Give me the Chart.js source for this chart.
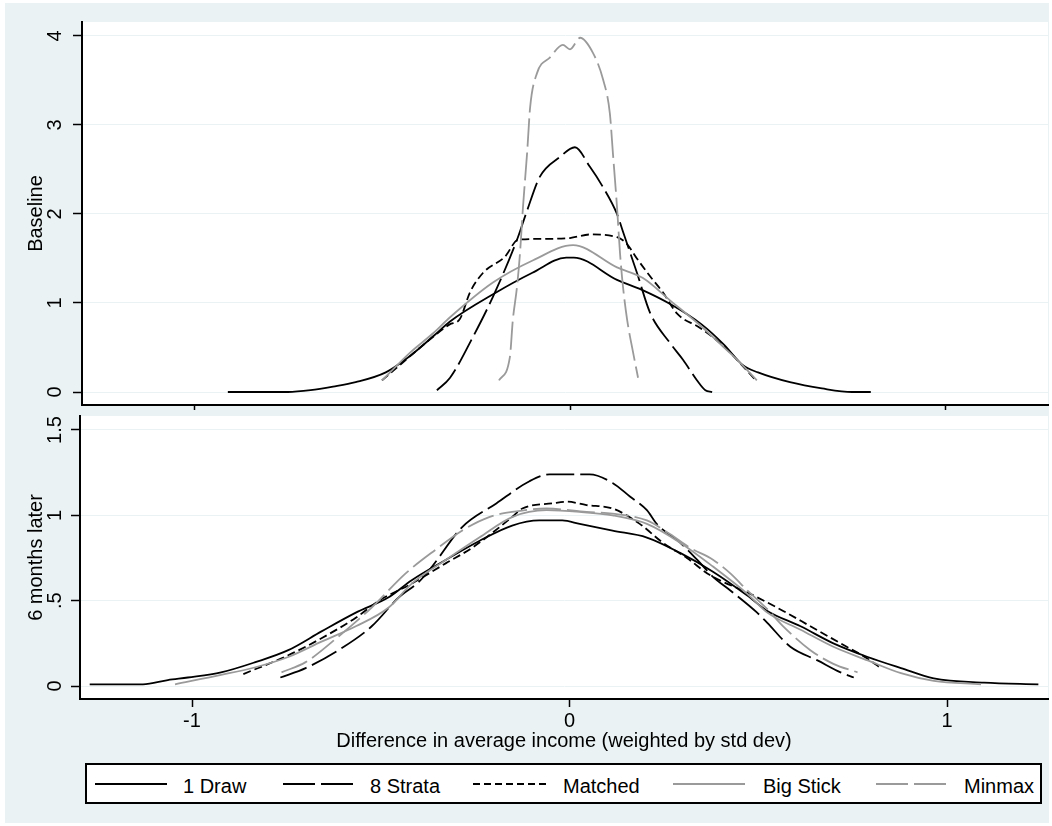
<!DOCTYPE html>
<html>
<head>
<meta charset="utf-8">
<title>Difference in average income</title>
<script src="https://cdn.jsdelivr.net/npm/chart.js@4.4.1/dist/chart.umd.min.js"></script>
<style>
  body { margin: 0; background: #fff; }
  #page { position: relative; width: 1052px; height: 826px; overflow: hidden; font-family: 'Liberation Sans', Arial, sans-serif; }
  #bg { position: absolute; left: 5px; top: 3px; width: 1044px; height: 820px; background: #eaf2f3; }
  canvas { position: absolute; left: 0; }
  #legendBox { position: absolute; left: 85px; top: 763px; width: 957px; height: 41px; box-sizing: border-box; border: 2px solid #000; background: #fff; }
  #legendLines { position: absolute; left: 0; top: 770px; }
  .keyText { position: absolute; top: 774px; font-size: 20px; line-height: 24px; white-space: nowrap; color: #000; }
</style>
</head>
<body>
<div id="page">
  <div id="bg"></div>
  <canvas id="top" width="1052" height="410" style="top:0"></canvas>
  <canvas id="bottom" width="1052" height="350" style="top:410px"></canvas>
  <div id="legendBox"></div>
  <svg id="legendLines" width="1052" height="30"></svg>
</div>
<script>
// series names, in Stata's plotting order
const seriesNames = ['1 Draw', '8 Strata', 'Matched', 'Big Stick', 'Minmax'];

// Baseline panel: [x, density]
const baseDraw1 = [[-0.91,0],[-0.75,0],[-0.69,0.02],[-0.63,0.06],[-0.57,0.11],[-0.49,0.22],[-0.43,0.39],[-0.36,0.64],[-0.32,0.79],[-0.2,1.11],[-0.1,1.34],[-0.01,1.51],[0.01,1.51],[0.125,1.26],[0.19,1.15],[0.27,0.98],[0.35,0.76],[0.41,0.53],[0.46,0.3],[0.5,0.22],[0.585,0.11],[0.67,0.04],[0.75,0],[0.8,0]];
const baseStrata8 = [[-0.354,0.02],[-0.319,0.16],[-0.258,0.62],[-0.205,1.07],[-0.141,1.71],[-0.114,2.04],[-0.08,2.42],[-0.027,2.64],[0.013,2.75],[0.053,2.53],[0.088,2.3],[0.125,2.0],[0.141,1.8],[0.178,1.34],[0.213,0.89],[0.266,0.55],[0.301,0.36],[0.338,0.13],[0.36,0.02],[0.378,0]];
const baseMatched = [[-0.5,0.13],[-0.426,0.4],[-0.364,0.62],[-0.32,0.76],[-0.293,0.82],[-0.266,1.12],[-0.231,1.34],[-0.173,1.52],[-0.138,1.71],[-0.08,1.72],[0,1.73],[0.053,1.77],[0.125,1.74],[0.152,1.66],[0.178,1.5],[0.213,1.3],[0.247,1.12],[0.285,0.88],[0.346,0.72],[0.407,0.52],[0.497,0.12]];
const baseBigStick = [[-0.5,0.13],[-0.426,0.44],[-0.364,0.66],[-0.319,0.84],[-0.205,1.23],[-0.098,1.48],[0.008,1.65],[0.125,1.4],[0.194,1.28],[0.266,1.03],[0.346,0.75],[0.407,0.51],[0.452,0.33],[0.497,0.13]];
const baseMinmax = [[-0.189,0.13],[-0.16,0.39],[-0.152,0.81],[-0.141,1.18],[-0.133,1.56],[-0.125,2.08],[-0.114,2.69],[-0.106,3.2],[-0.088,3.58],[-0.053,3.76],[-0.019,3.9],[0,3.85],[0.027,3.98],[0.061,3.81],[0.088,3.51],[0.106,3.13],[0.114,2.69],[0.125,2.08],[0.133,1.56],[0.141,1.18],[0.152,0.81],[0.168,0.44],[0.181,0.16]];

// 6 months later panel
const lateDraw1 = [[-1.271,0.01],[-1.13,0.01],[-1.064,0.035],[-1.011,0.05],[-0.923,0.08],[-0.832,0.14],[-0.745,0.21],[-0.657,0.32],[-0.566,0.43],[-0.479,0.52],[-0.418,0.62],[-0.327,0.74],[-0.239,0.85],[-0.152,0.94],[-0.08,0.97],[-0.019,0.97],[0.027,0.95],[0.114,0.91],[0.205,0.87],[0.293,0.78],[0.38,0.67],[0.471,0.53],[0.524,0.44],[0.612,0.35],[0.699,0.25],[0.79,0.17],[0.878,0.105],[0.965,0.045],[1.098,0.02],[1.242,0.01]];
const lateStrata8 = [[-0.766,0.05],[-0.699,0.105],[-0.612,0.21],[-0.524,0.35],[-0.452,0.52],[-0.399,0.61],[-0.364,0.7],[-0.285,0.93],[-0.194,1.07],[-0.106,1.2],[-0.053,1.24],[0.053,1.24],[0.114,1.19],[0.16,1.11],[0.205,1.03],[0.231,0.95],[0.293,0.84],[0.338,0.74],[0.38,0.64],[0.426,0.56],[0.497,0.43],[0.524,0.37],[0.585,0.23],[0.657,0.15],[0.718,0.08],[0.753,0.05]];
const lateMatched = [[-0.864,0.07],[-0.745,0.18],[-0.657,0.28],[-0.566,0.4],[-0.505,0.5],[-0.418,0.6],[-0.327,0.72],[-0.258,0.81],[-0.152,0.99],[-0.125,1.04],[-0.045,1.07],[-0.008,1.08],[0.045,1.06],[0.114,1.04],[0.186,0.95],[0.247,0.84],[0.311,0.75],[0.372,0.65],[0.479,0.54],[0.566,0.44],[0.638,0.35],[0.726,0.24],[0.79,0.16],[0.824,0.105]];
const lateBigStick = [[-1.045,0.01],[-0.923,0.065],[-0.832,0.11],[-0.745,0.17],[-0.657,0.26],[-0.566,0.35],[-0.479,0.46],[-0.418,0.6],[-0.327,0.74],[-0.239,0.87],[-0.152,0.99],[-0.061,1.03],[0.027,1.02],[0.114,1],[0.205,0.95],[0.293,0.84],[0.38,0.7],[0.471,0.54],[0.524,0.43],[0.612,0.33],[0.699,0.23],[0.79,0.15],[0.878,0.075],[0.965,0.03],[1.09,0.01]];
const lateMinmax = [[-0.763,0.08],[-0.699,0.14],[-0.612,0.29],[-0.524,0.46],[-0.434,0.66],[-0.354,0.8],[-0.285,0.91],[-0.213,0.99],[-0.152,1.02],[-0.061,1.04],[0.045,1.02],[0.114,1.01],[0.205,0.97],[0.266,0.89],[0.319,0.81],[0.38,0.74],[0.426,0.66],[0.471,0.56],[0.524,0.45],[0.566,0.35],[0.638,0.21],[0.699,0.13],[0.763,0.08]];

// axis ticks and labels
const xTicks = [-1, 0, 1];
const xLabels = ['-1', '0', '1'];
const baseYTicks = [0, 1, 2, 3, 4];
const baseYLabels = ['0', '1', '2', '3', '4'];
const lateYTicks = [0, 0.5, 1, 1.5];
const lateYLabels = ['0', '.5', '1', '1.5'];

// styles
const lineColors = ['#000', '#000', '#000', '#9a9a9a', '#9a9a9a'];
const lineDashes = [[], [28, 6], [8, 4], [], [28, 6]];
const legendDashes = ['', '32 6', '7 4', '', '32 6'];
const legendLineX = [95, 283, 473, 673, 876];
const legendLineW = [72, 70, 75, 72, 70];
const legendTextX = [183, 370, 563, 763, 964];

Chart.defaults.font.family = "'Liberation Sans', Arial, sans-serif";
Chart.defaults.font.size = 20;
Chart.defaults.color = '#000';

const plotBackground = {
  id: 'plotBackground',
  beforeDraw(chart) {
    const { ctx, chartArea: a } = chart;
    ctx.save();
    ctx.fillStyle = '#fff';
    ctx.fillRect(a.left, a.top, a.right - a.left, a.bottom - a.top);
    ctx.restore();
  }
};

function makePanel(id, series, yTicks, yLabels, yTitle, f) {
  return new Chart(document.getElementById(id), {
    type: 'line',
    data: {
      datasets: series.map((pts, i) => ({
        label: seriesNames[i],
        data: pts.map(p => ({ x: p[0], y: p[1] })),
        borderColor: lineColors[i],
        borderDash: lineDashes[i],
        borderWidth: 1.8,
        pointRadius: 0,
        fill: false,
        cubicInterpolationMode: 'monotone',
        order: series.length - i
      }))
    },
    options: {
      responsive: false,
      animation: false,
      events: [],
      layout: { autoPadding: false, padding: f.padding },
      plugins: { legend: { display: false }, tooltip: { enabled: false } },
      scales: {
        x: {
          type: 'linear',
          min: f.xmin, max: f.xmax,
          afterBuildTicks: s => { s.ticks = xTicks.map(v => ({ value: v })); },
          afterFit: s => { s.height = f.xHeight; s.paddingLeft = 0; s.paddingRight = 0; },
          grid: { drawOnChartArea: false, tickLength: 8, tickColor: '#000', tickWidth: 1.5 },
          border: { color: '#000', width: 2 },
          ticks: { display: f.showX, padding: 2, callback: (v, i) => xLabels[i] },
          title: {
            display: f.showX,
            text: 'Difference in average income (weighted by std dev)',
            padding: { top: 0, bottom: 7 }
          }
        },
        y: {
          type: 'linear',
          min: f.ymin, max: f.ymax,
          afterBuildTicks: s => { s.ticks = yTicks.map(v => ({ value: v })); },
          afterFit: s => { s.width = f.yWidth; s.paddingTop = 0; s.paddingBottom = 0; },
          grid: { color: '#eaf2f3', lineWidth: 1, tickLength: 9, tickColor: '#000', tickWidth: 1.5 },
          border: { color: '#000', width: 2 },
          ticks: {
            minRotation: 90, maxRotation: 90, crossAlign: 'center',
            padding: f.yPad,
            callback: (v, i) => yLabels[i]
          },
          title: { display: true, text: yTitle, padding: { top: 24, bottom: 0 } }
        }
      }
    },
    plugins: [plotBackground]
  });
}

makePanel('top', [baseDraw1, baseStrata8, baseMatched, baseBigStick, baseMinmax],
  baseYTicks, baseYLabels, 'Baseline',
  { padding: { top: 22, right: 4, left: 0, bottom: 0 }, xHeight: 5, yWidth: 82, yPad: 12,
    xmin: -1.2979, xmax: 1.2713, ymin: -0.146, ymax: 4.157, showX: false });

makePanel('bottom', [lateDraw1, lateStrata8, lateMatched, lateBigStick, lateMinmax],
  lateYTicks, lateYLabels, '6 months later',
  { padding: { top: 6, right: 4, left: 0, bottom: 0 }, xHeight: 61, yWidth: 80, yPad: 2,
    xmin: -1.2967, xmax: 1.2675, ymin: -0.076, ymax: 1.582, showX: true });

// legend
const svg = document.getElementById('legendLines');
const page = document.getElementById('page');
seriesNames.forEach((name, i) => {
  const ln = document.createElementNS('http://www.w3.org/2000/svg', 'line');
  ln.setAttribute('x1', legendLineX[i]);
  ln.setAttribute('x2', legendLineX[i] + legendLineW[i]);
  ln.setAttribute('y1', 14);
  ln.setAttribute('y2', 14);
  ln.setAttribute('stroke', lineColors[i]);
  ln.setAttribute('stroke-width', 1.8);
  if (legendDashes[i]) ln.setAttribute('stroke-dasharray', legendDashes[i]);
  svg.appendChild(ln);
  const t = document.createElement('div');
  t.className = 'keyText';
  t.style.left = legendTextX[i] + 'px';
  t.textContent = name;
  page.appendChild(t);
});
</script>
</body>
</html>
